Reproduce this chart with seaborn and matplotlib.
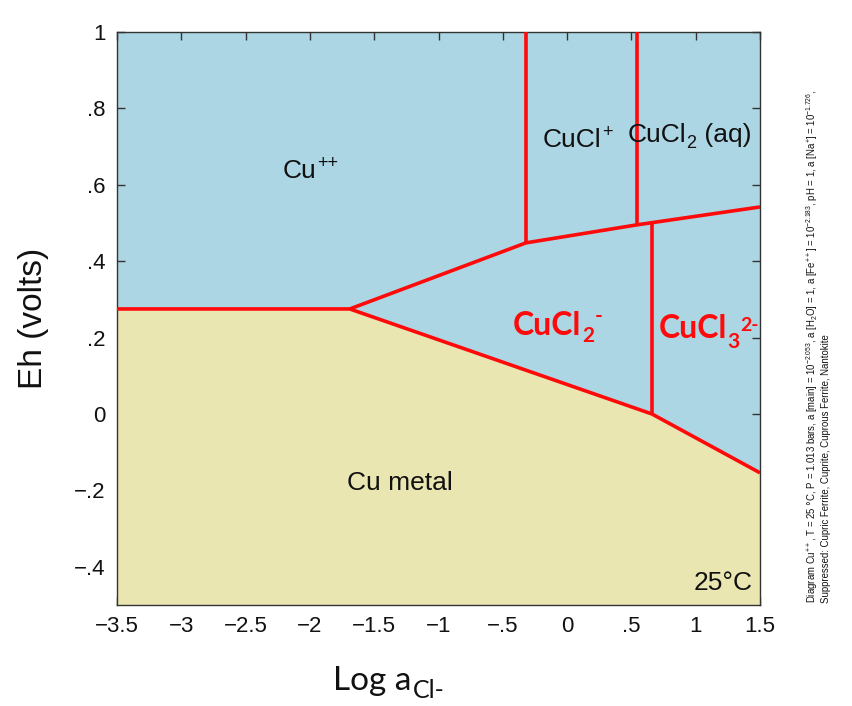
import matplotlib
matplotlib.use("Agg")
import matplotlib.pyplot as plt
import seaborn as sns
import pandas as pd

# Stability-field boundaries: log a(Cl-) vs Eh (volts)
metal_x = [-3.5, -1.69, 0.66, 1.5]
metal_eh = [0.275, 0.275, 0.0, -0.154]
upper_x = [-1.69, -0.32, 0.54, 1.5]
upper_eh = [0.275, 0.448, 0.495, 0.542]
cucl_plus_x = [-0.32, -0.32]
cucl_plus_eh = [0.448, 1.0]
cucl2_aq_x = [0.54, 0.54]
cucl2_aq_eh = [0.495, 1.0]
cucl3_x = [0.66, 0.66]
cucl3_eh = [0.0, 0.501]

x_ticks = [-3.5, -3.0, -2.5, -2.0, -1.5, -1.0, -0.5, 0.0, 0.5, 1.0, 1.5]
x_tick_labels = ["\u22123.5", "\u22123", "\u22122.5", "\u22122", "\u22121.5", "\u22121",
                 "\u2212.5", "0", ".5", "1", "1.5"]
y_ticks = [-0.4, -0.2, 0.0, 0.2, 0.4, 0.6, 0.8, 1.0]
y_tick_labels = ["\u2212.4", "\u2212.2", "0", ".2", ".4", ".6", ".8", "1"]

BLUE = "#acd6e4"
KHAKI = "#e9e6b2"
RED = "#ff0a0a"
INK = "#111111"

sns.set_style("ticks")
plt.rcParams["font.family"] = ["Liberation Sans", "DejaVu Sans"]

segments = {
    "metal": (metal_x, metal_eh),
    "upper": (upper_x, upper_eh),
    "cucl_plus": (cucl_plus_x, cucl_plus_eh),
    "cucl2_aq": (cucl2_aq_x, cucl2_aq_eh),
    "cucl3": (cucl3_x, cucl3_eh),
}
rows = []
for name, (xs, ys) in segments.items():
    for i, (x, y) in enumerate(zip(xs, ys)):
        rows.append({"boundary": name, "order": i, "logCl": x, "Eh": y})
df = pd.DataFrame(rows)

fig = plt.figure(figsize=(8.52, 7.06), dpi=100)
ax = fig.add_axes([117 / 852, 1 - 605 / 706, 643 / 852, 573 / 706])
ax.set_facecolor(BLUE)
ax.fill_between(metal_x, metal_eh, -0.5, color=KHAKI, lw=0, zorder=1)

sns.lineplot(data=df, x="logCl", y="Eh", units="boundary", estimator=None,
             sort=False, color=RED, lw=2.6, ax=ax, zorder=3,
             solid_capstyle="butt")

ax.set_xlim(-3.5, 1.5)
ax.set_ylim(-0.5, 1.0)
ax.set_xticks(x_ticks, labels=x_tick_labels)
ax.set_yticks(y_ticks, labels=y_tick_labels)
ax.tick_params(direction="in", length=6, width=1, color="#333333",
               top=True, right=True, labelsize=16, pad=8, labelcolor=INK)
for s in ax.spines.values():
    s.set_color("#333333")
    s.set_linewidth(1.0)
ax.set_xlabel("")
ax.set_ylabel("Eh (volts)", fontsize=24, labelpad=18, color=INK)


def chem(x, y, parts, **style):
    """Write a formula piece by piece: (text, fontsize, baseline shift in points)."""
    first, size, _ = parts[0]
    prev = ax.text(x, y, first, fontsize=size, va="baseline", ha="left", **style)
    for txt, size, dy in parts[1:]:
        prev = ax.annotate(txt, xy=(1, y), xycoords=(prev, "data"),
                           xytext=(0.3, dy), textcoords="offset points",
                           fontsize=size, va="baseline", ha="left", **style)


# Field labels
ink = dict(color=INK)
chem(-2.21, 0.618, [("Cu", 19, 0), ("++", 13, 7)], **ink)
chem(-0.19, 0.699, [("CuCl", 19, 0), ("+", 13, 7)], **ink)
chem(0.47, 0.712, [("CuCl", 19, 0), ("2", 13, -4), (" (aq)", 19, 0)], **ink)
ax.text(-1.71, -0.199, "Cu metal", fontsize=19, color=INK)
ax.text(1.44, -0.461, "25\u00b0C", ha="right", fontsize=19, color=INK)

red = dict(color=RED, fontweight="bold", family=["Lato", "DejaVu Sans"])
chem(-0.42, 0.207, [("CuCl", 23, 0), ("2", 15, -5), ("-", 15, 9)], **red)
chem(0.71, 0.199, [("CuCl", 23, 0), ("3", 15, -7), ("2-", 14, 5)], **red)

# x-axis title with subscript
t = fig.text(333 / 852, 1 - 690 / 706, "Log a", fontsize=24,
             family=["Lato", "DejaVu Sans"], va="baseline", ha="left", color=INK)
fig.canvas.draw()
bb = t.get_window_extent()
fig.text((bb.x1 + 1) / 852, 1 - 698 / 706, "Cl-", fontsize=18,
         family=["Lato", "DejaVu Sans"], va="baseline", ha="left", color=INK)

# Diagram conditions, rotated along the right margin
cond1 = (r"Diagram Cu$^{\mathregular{++}}$, T = 25 $\degree$C, P = 1.013 bars, "
         r"a [main] = 10$^{\mathregular{-2.053}}$, a [H$_{\mathregular{2}}$O] = 1, "
         r"a [Fe$^{\mathregular{++}}$] = 10$^{\mathregular{-2.183}}$, pH = 1, "
         r"a [Na$^{\mathregular{+}}$] = 10$^{\mathregular{-1.726}}$,")
cond2 = "Suppressed: Cupric Ferrite, Cuprite, Cuprous Ferrite, Nantokite"
fig.text(812 / 852, 1 - 603 / 706, cond1, rotation=90, fontsize=6.9,
         ha="center", va="bottom", color=INK)
fig.text(826 / 852, 1 - 603 / 706, cond2, rotation=90, fontsize=6.9,
         ha="center", va="bottom", color=INK)

fig.savefig("out.png", dpi=100)
